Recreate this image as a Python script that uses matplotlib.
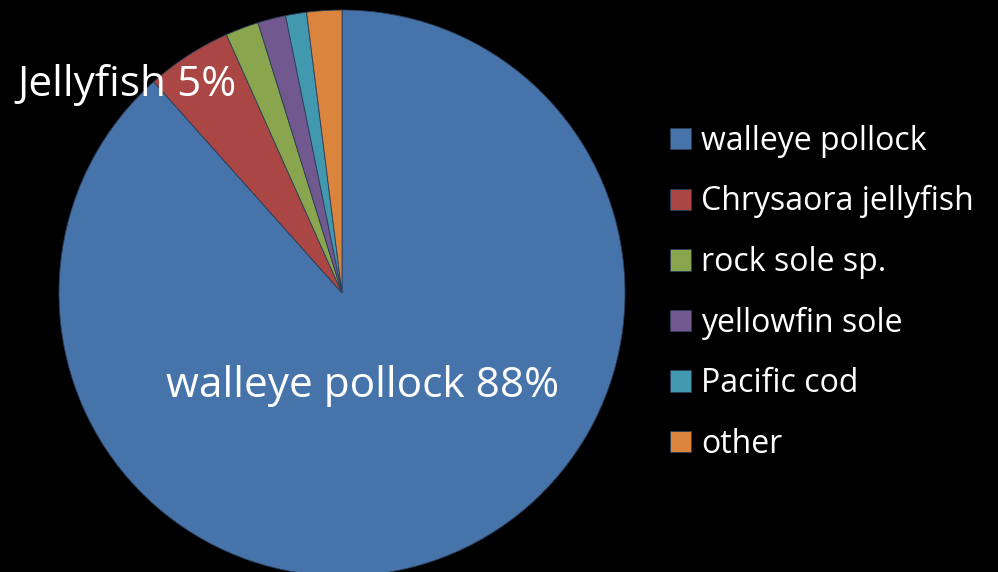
import matplotlib.pyplot as plt

species = ["walleye pollock", "Chrysaora jellyfish", "rock sole sp.",
           "yellowfin sole", "Pacific cod", "other"]
share = [88.5, 4.9, 1.9, 1.6, 1.2, 2.0]
colors = ["#4674AA", "#AA4643", "#89A54E", "#71588F", "#4198AF", "#DB843D"]

# slices that get a label on the pie itself
slice_names = {0: "walleye pollock", 1: "Jellyfish"}
slice_pct = {0: 88, 1: 5}

fig = plt.figure(figsize=(9.98, 5.72), dpi=100, facecolor="black")
ax = fig.add_axes([59 / 998, -4 / 572, 566 / 998, 566 / 572])
ax.set_facecolor("black")

wedges, _ = ax.pie(share, colors=colors, startangle=90, counterclock=False,
                   radius=1, wedgeprops=dict(edgecolor="#2b3f5a", linewidth=0.6))
ax.set_xlim(-1, 1)
ax.set_ylim(-1, 1)
ax.set_aspect("equal")
ax.axis("off")

font = "Open Sans"
ax.text(0.074, -0.33, f"{slice_names[0]} {slice_pct[0]}%", color="white",
        fontsize=30.5, family=font, ha="center", va="center")
ax.text(-0.76, 0.735, f"{slice_names[1]} {slice_pct[1]}%", color="white",
        fontsize=30.5, family=font, ha="center", va="center")

leg = fig.legend(wedges, species, loc="upper left", bbox_to_anchor=(657 / 998, 1 - 112 / 572),
                 frameon=False, labelcolor="white", prop=dict(family=font, size=23),
                 handlelength=0.66, handleheight=0.66, handletextpad=0.33,
                 labelspacing=0.86, borderaxespad=0)

fig.savefig("out.png", dpi=100, facecolor="black")
